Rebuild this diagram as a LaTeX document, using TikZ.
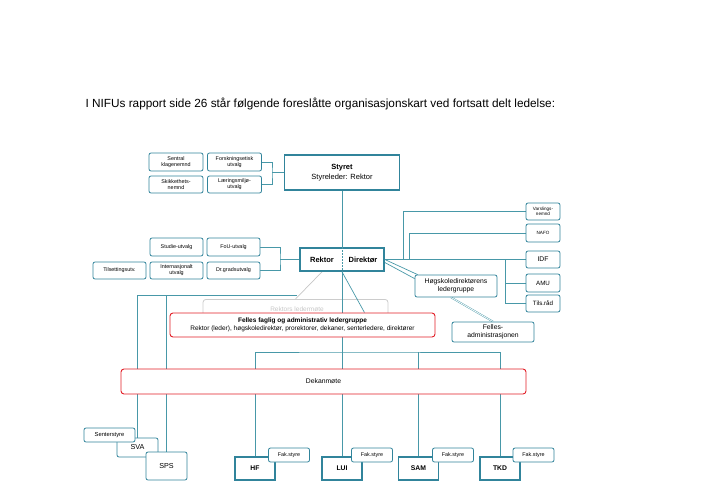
\documentclass[tikz,border=0pt]{standalone}
\usepackage{fontspec}
\setmainfont{Liberation Sans}
\usetikzlibrary{backgrounds}
\definecolor{orgteal}{RGB}{49,132,155}
\definecolor{orgline}{RGB}{72,152,168}
\definecolor{orgred}{RGB}{226,30,38}
\newcommand{\orgfs}[2]{\fontsize{#1}{#2}\selectfont}

\begin{document}
\begin{tikzpicture}[x=1pt,y=-1pt,
  box/.style={draw=orgteal,line width=0.8pt,rounded corners=2pt,fill=white,align=center,inner sep=0pt,font=\orgfs{5.4}{6}},
  hbox/.style={draw=orgteal,line width=1.6pt,fill=white,align=center,inner sep=0pt},
  rbox/.style={draw=orgred,line width=0.9pt,rounded corners=3pt,fill=white,align=center,inner sep=0pt},
  conn/.style={draw=orgline,line width=0.7pt}]
  \useasboundingbox (0,0) rectangle (707,482);
  \node[anchor=west,font=\orgfs{11.8}{14}] (title) at (82,104) {I NIFUs rapport side 26 står følgende foreslåtte organisasjonskart ved fortsatt delt ledelse:};

  % styret og utvalg
  \node[hbox,minimum width=115,minimum height=35,font=\orgfs{7.5}{9.5}] (styret) at (342,172.5) {\textbf{Styret}\\Styreleder: Rektor};
  \node[box,minimum width=54,minimum height=18] (klage) at (176,162) {Sentral\\klagenemnd};
  \node[box,minimum width=54,minimum height=18] (forsk) at (234.5,162) {Forskningsetisk\\utvalg};
  \node[box,minimum width=54,minimum height=17] (skikk) at (176,184.5) {Skikkethets-\\nemnd};
  \node[box,minimum width=54,minimum height=17] (lmu) at (234.5,184.5) {Læringsmiljø-\\utvalg};
  \node[box,minimum width=53,minimum height=18] (studie) at (176.5,247) {Studie-utvalg};
  \node[box,minimum width=53,minimum height=18] (fou) at (233.5,247) {FoU-utvalg};
  \node[box,minimum width=53,minimum height=17] (intl) at (176.5,270.5) {Internasjonalt\\utvalg};
  \node[box,minimum width=53,minimum height=17] (drgrad) at (233.5,270.5) {Dr.gradsutvalg};
  \node[box,minimum width=53,minimum height=17] (tils) at (119.5,270.5) {Tilsettingsutv.};

  % rektor / direktør
  \node[hbox,minimum width=84,minimum height=23] (rd) at (342,259.5) {};
  \node[font=\orgfs{7.5}{9}\bfseries] (rektor) at (322,259.5) {Rektor};
  \node[font=\orgfs{7.5}{9}\bfseries] (dir) at (363,259.5) {Direktør};
  \draw[orgline,line width=0.7pt,dash pattern=on 1.5pt off 1.5pt] (rd.north) -- (rd.south);

  % høyre side
  \node[box,minimum width=34,minimum height=17,font=\orgfs{4.6}{5.3}] (varsl) at (543,211.5) {Varslings-\\nemnd};
  \node[box,minimum width=34,minimum height=18,font=\orgfs{4.6}{5.3}] (nafo) at (543,233) {NAFO};
  \node[box,minimum width=34,minimum height=17,font=\orgfs{6.8}{7.5}] (idf) at (543,259.5) {IDF};
  \node[box,minimum width=34,minimum height=18,font=\orgfs{6.2}{7}] (amu) at (543,283) {AMU};
  \node[box,minimum width=34,minimum height=17,font=\orgfs{6.2}{7}] (tilsr) at (543,303.5) {Tils.råd};
  \node[box,minimum width=82,minimum height=22,font=\orgfs{6.8}{8.2}] (hsd) at (456,286) {Høgskoledirektørens\\ledergruppe};
  \node[box,minimum width=82,minimum height=20,font=\orgfs{6.8}{8.2}] (fadm) at (493,332) {Felles-\\administrasjonen};

  % ledergrupper og dekanmøte
  \node[rbox,minimum width=265,minimum height=24,font=\orgfs{6.5}{8}] (felles) at (302.5,325) {\textbf{Felles faglig og administrativ ledergruppe}\\Rektor (leder), høgskoledirektør, prorektorer, dekaner, senterledere, direktører};
  \node[rbox,minimum width=405,minimum height=25,font=\orgfs{6.8}{8}] (dekan) at (323.5,381.5) {Dekanmøte};

  % sentre og fakulteter
  \node[box,minimum width=41,minimum height=19,font=\orgfs{7.2}{8}] (sva) at (137.5,447.5) {SVA};
  \node[box,minimum width=51,minimum height=14,font=\orgfs{5.8}{6.5}] (senter) at (109.5,435) {Senterstyre};
  \node[box,minimum width=41,minimum height=28,font=\orgfs{7.2}{8}] (sps) at (166.5,466) {SPS};
  \foreach \n/\t/\x/\o in {hf/HF/255/34,lui/LUI/342/30,sam/SAM/418.5/34.5,tkd/TKD/500/33.5}{
    \node[hbox,minimum width=40,minimum height=23,font=\orgfs{6.8}{8}\bfseries] (\n) at (\x,468.5) {\t};
    \node[box,minimum width=41,minimum height=14] (\n-fs) at (\x+\o,455) {Fak.styre};
  }

  \begin{scope}[on background layer]
    \node[draw=gray!40,line width=0.8pt,rounded corners=3pt,minimum width=185,minimum height=32,anchor=north] (rlm) at (295.5,299) {};
    \node[text=gray!45,font=\orgfs{6.5}{7}] (rlmtxt) at (297,309.5) {Rektors ledermøte};
    \coordinate (j1) at (272,172.5);
    \draw[conn] (forsk.east) -| (j1) |- (lmu.east);
    \draw[conn] (j1) -- (styret.west);
    \coordinate (j2) at (280,259.5);
    \draw[conn] (fou.east) -| (j2) |- (drgrad.east);
    \draw[conn] (j2) -- (rd.west);
    \draw[conn] (styret.south) -- (rd.north);
    \draw[conn] (rd.south) -- (lui.north);
    \coordinate (bus) at (342,352);
    \draw[conn] (hf.north) |- (bus) -| (tkd.north);
    \draw[conn] (sam.north) -- (sam.north |- bus);
    \draw[conn] (rd.south) -- ([xshift=62]felles.north);
    \draw[gray!45,line width=0.7pt] ([xshift=-20]rd.south) -- (rlm.north);
    \coordinate (lb) at (297,295);
    \draw[conn] (lb) -| (sva.north);
    \draw[conn] (sps.north |- lb) -- (sps.north);
    \coordinate (v1) at (403,259.5);
    \draw[conn] (varsl.west) -| (v1);
    \coordinate (v2) at (409,259.5);
    \draw[conn] (nafo.west) -| (v2);
    \draw[conn] (rd.east) -- (idf.west);
    \coordinate (v3) at (505,259.5);
    \draw[conn] (v3) |- (amu.west);
    \draw[conn] (v3) |- (tilsr.west);
    \draw[conn] (rd.east) -- ([xshift=3]hsd.north west);
    \draw[conn] ([yshift=-3]rd.east) -- ([yshift=-4]hsd.north west);
    \draw[orgline,double=white,double distance=0.8pt,line width=0.4pt] ([xshift=-5]hsd.south) -- (fadm.north);
  \end{scope}
\end{tikzpicture}
\end{document}
